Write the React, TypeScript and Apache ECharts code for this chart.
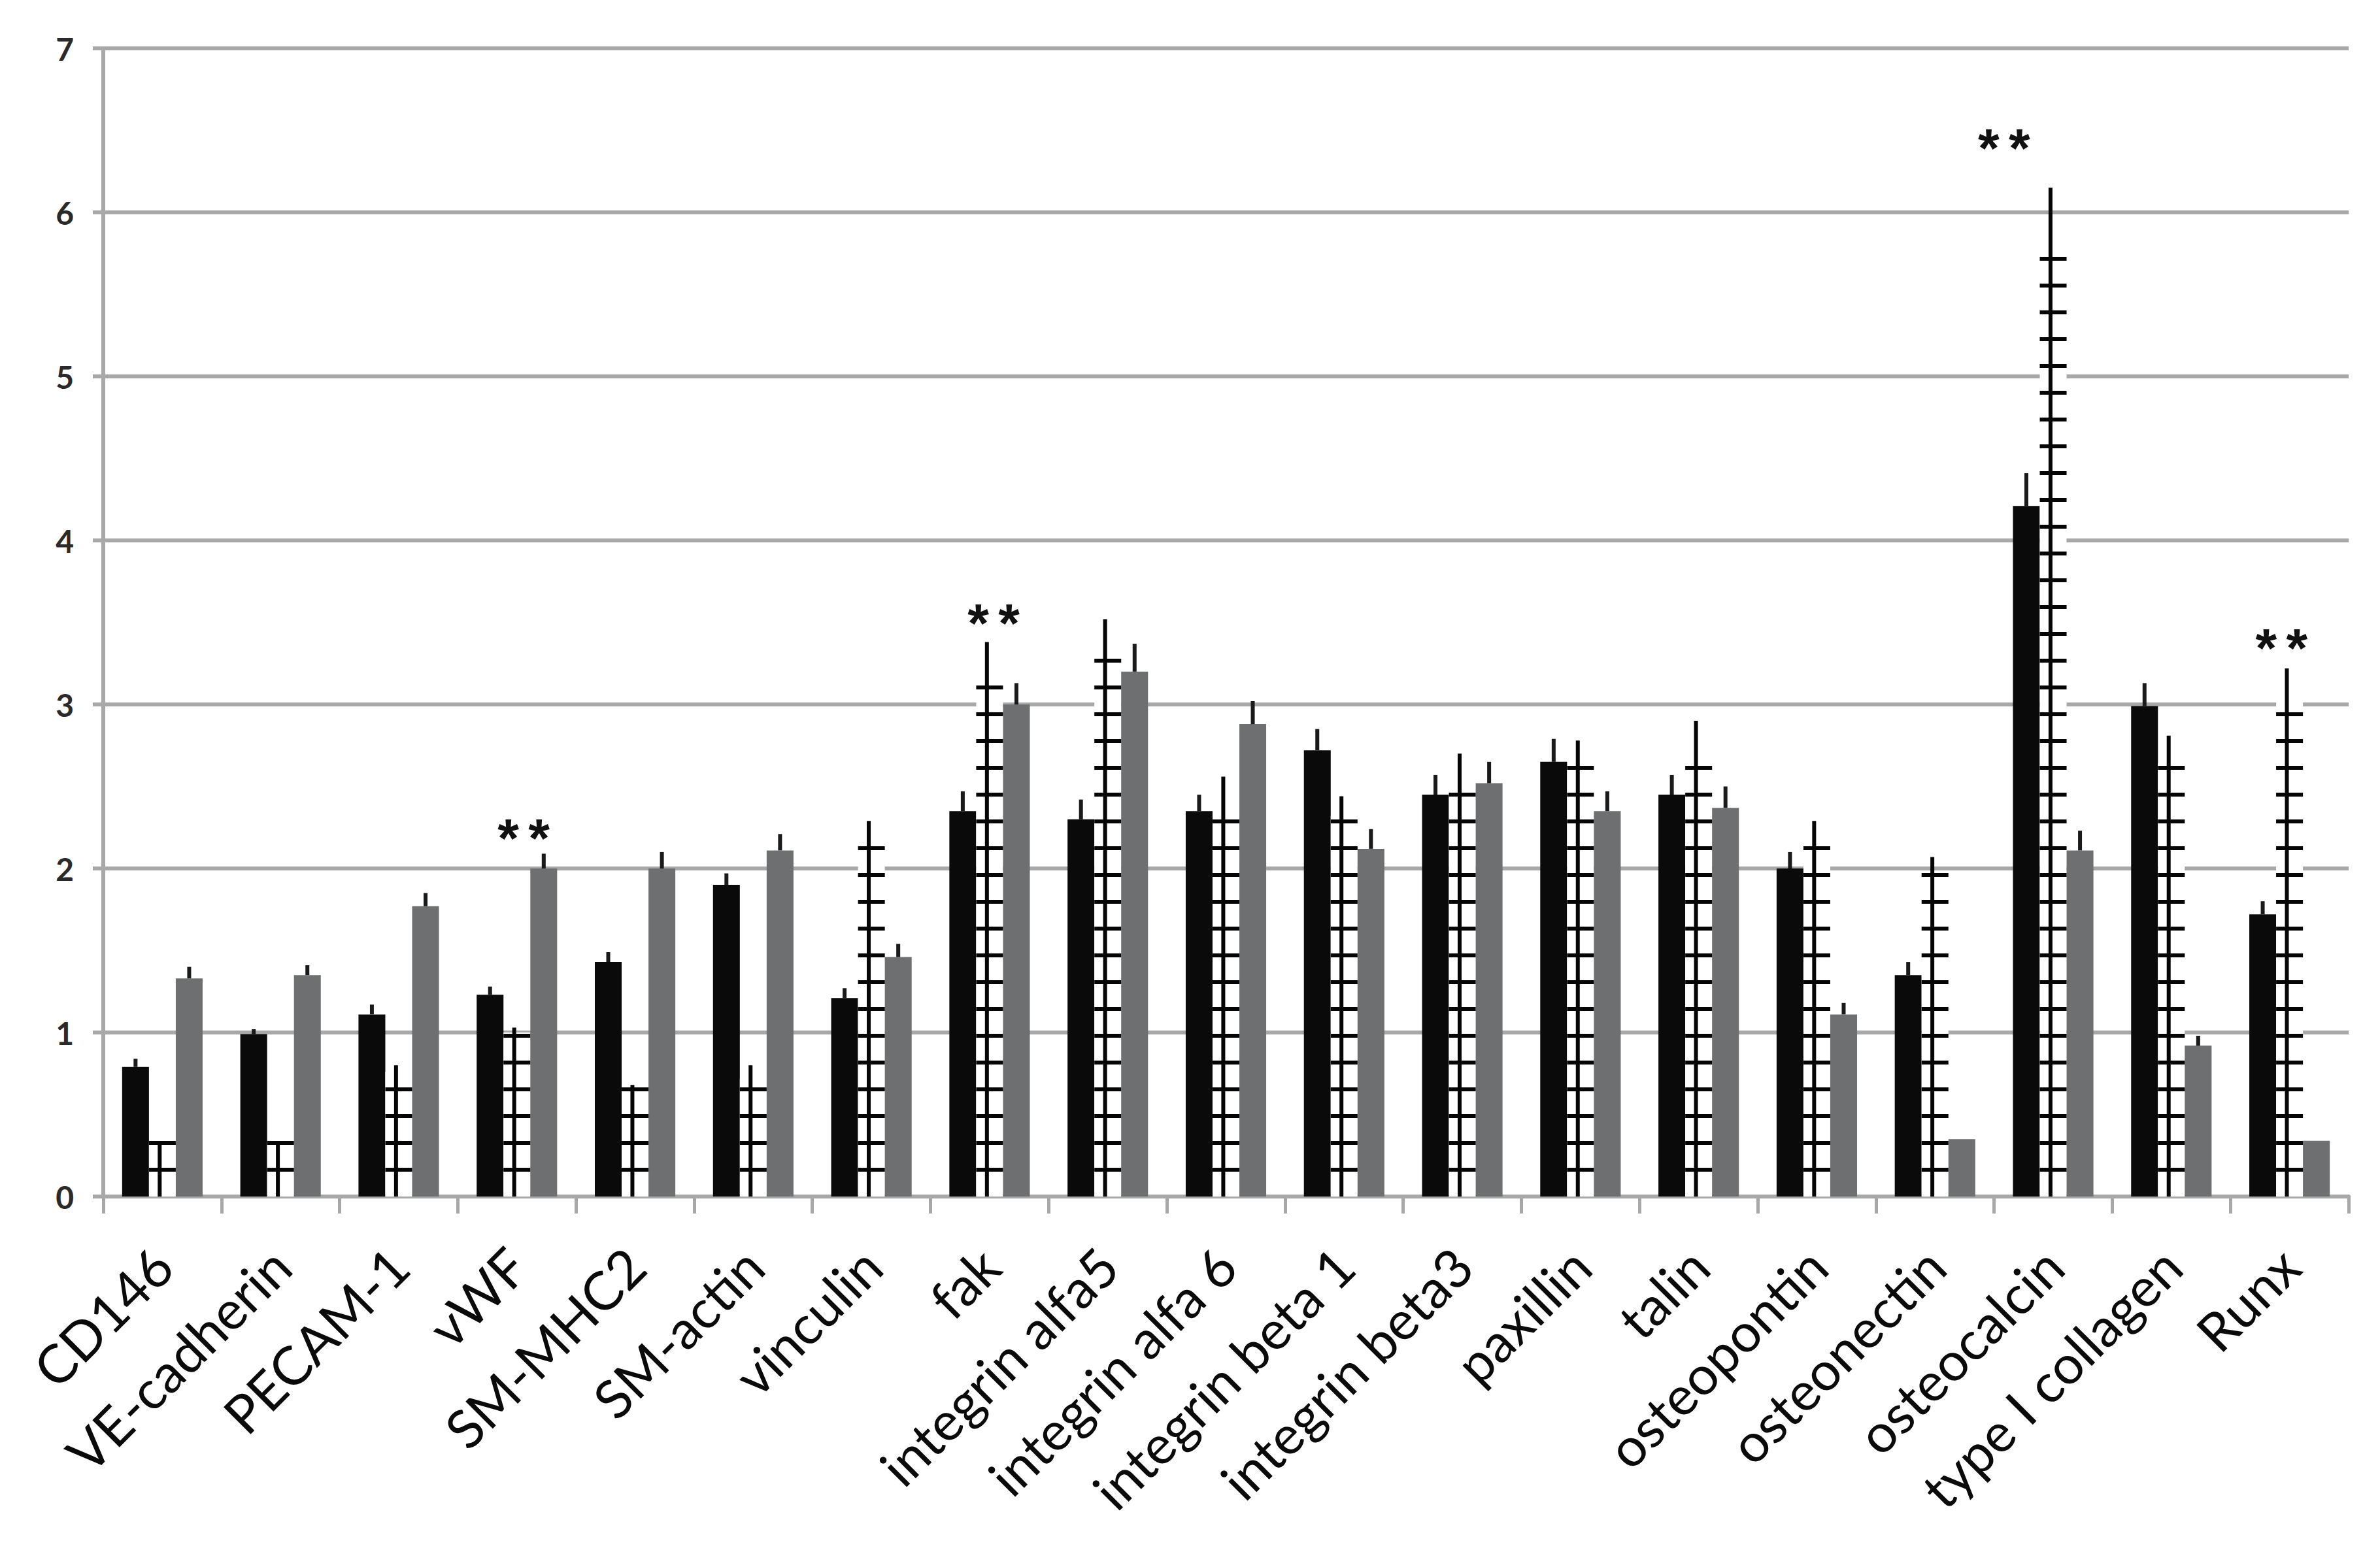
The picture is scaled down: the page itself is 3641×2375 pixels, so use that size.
import React, { useEffect, useRef } from 'react';
import * as echarts from 'echarts';

const categories = [
  'CD146', 'VE-cadherin', 'PECAM-1', 'vWF', 'SM-MHC2', 'SM-actin', 'vinculin', 'fak',
  'integrin alfa5', 'integrin alfa 6', 'integrin beta 1', 'integrin beta3', 'paxillin',
  'talin', 'osteopontin', 'osteonectin', 'osteocalcin', 'type I collagen', 'Runx',
];

const blackVals = [0.79, 0.99, 1.11, 1.23, 1.43, 1.90, 1.21, 2.35, 2.30, 2.35, 2.72, 2.45, 2.65, 2.45, 2.00, 1.35, 4.21, 2.99, 1.72];
const blackErr = [0.05, 0.03, 0.06, 0.05, 0.06, 0.07, 0.06, 0.12, 0.12, 0.10, 0.13, 0.12, 0.14, 0.12, 0.10, 0.08, 0.20, 0.14, 0.08];
const hatchVals = [0.33, 0.33, 0.76, 1.00, 0.68, 0.72, 2.15, 3.19, 3.34, 2.40, 2.32, 2.49, 2.62, 2.76, 2.15, 1.98, 5.84, 2.64, 3.05];
const hatchErr = [0.0, 0.0, 0.04, 0.03, 0.0, 0.08, 0.14, 0.19, 0.18, 0.16, 0.12, 0.21, 0.16, 0.14, 0.14, 0.09, 0.31, 0.17, 0.17];
const grayVals = [1.33, 1.35, 1.77, 2.00, 2.00, 2.11, 1.46, 3.00, 3.20, 2.88, 2.12, 2.52, 2.35, 2.37, 1.11, 0.35, 2.11, 0.92, 0.34];
const grayErr = [0.07, 0.06, 0.08, 0.09, 0.10, 0.10, 0.08, 0.13, 0.17, 0.14, 0.12, 0.13, 0.12, 0.13, 0.07, 0.0, 0.12, 0.06, 0.0];

// significance marks: category index, value at which "**" sits, horizontal shift in bar widths
const sigCategory = [3, 7, 16, 18];
const sigValue = [2.23, 3.54, 6.44, 3.39];
const sigShift = [0.25, 0.15, -1.83, -0.3];

const yMin = 0;
const yMax = 7;
const yInterval = 1;

export default function App() {
  const ref = useRef<HTMLDivElement>(null);

  useEffect(() => {
    if (!ref.current) return;
    const chart = echarts.init(ref.current, null, { renderer: 'svg' });
    const BAR_FRAC = 0.227;
    const HATCH_STEP = 41;
    const gridColor = '#a8a8a8';

    const renderDetails = (params: any, api: any) => {
      const i = api.value(0);
      const base = api.coord([i, 0]);
      const bw = api.size([1, 0])[0];
      const w = bw * BAR_FRAC;
      const cx = base[0];
      const y0 = base[1];
      const children: any[] = [];
      const topY = api.coord([i, hatchVals[i]])[1];
      for (let y = y0 - HATCH_STEP; y > topY - 2; y -= HATCH_STEP) {
        children.push({
          type: 'line',
          shape: { x1: cx - w / 2, y1: y, x2: cx + w / 2, y2: y },
          style: { stroke: '#050505', lineWidth: 6 },
        });
      }
      const vx = cx - w * 0.1;
      const hTop = api.coord([i, hatchVals[i] + hatchErr[i]])[1];
      children.push({
        type: 'line',
        shape: { x1: vx, y1: y0, x2: vx, y2: hTop },
        style: { stroke: '#050505', lineWidth: 6 },
      });
      if (blackErr[i] > 0) {
        const a = api.coord([i, blackVals[i]])[1];
        const b = api.coord([i, blackVals[i] + blackErr[i]])[1];
        children.push({
          type: 'line',
          shape: { x1: cx - w, y1: a, x2: cx - w, y2: b },
          style: { stroke: '#1a1a1a', lineWidth: 6 },
        });
      }
      if (grayErr[i] > 0) {
        const a = api.coord([i, grayVals[i]])[1];
        const b = api.coord([i, grayVals[i] + grayErr[i]])[1];
        children.push({
          type: 'line',
          shape: { x1: cx + w, y1: a, x2: cx + w, y2: b },
          style: { stroke: '#1a1a1a', lineWidth: 6 },
        });
      }
      return { type: 'group', children };
    };

    const renderSig = (params: any, api: any) => {
      const c = api.value(0);
      const v = api.value(1);
      const s = api.value(2);
      const p = api.coord([c, v]);
      const bw = api.size([1, 0])[0];
      const w = bw * BAR_FRAC;
      const x = p[0] + s * w;
      const mk = (dx: number) => ({
        type: 'text',
        x: x + dx,
        y: p[1] + 12,
        style: {
          text: '*',
          fill: '#111',
          font: 'bold 84px "Liberation Sans"',
          align: 'center',
          verticalAlign: 'middle',
        },
      });
      return { type: 'group', children: [mk(-23.5), mk(23.5)] };
    };

    chart.setOption({
      animation: false,
      backgroundColor: '#ffffff',
      grid: { left: 158, right: 48, top: 74, bottom: 544, containLabel: false },
      xAxis: {
        type: 'category',
        data: categories,
        axisLine: { show: true, lineStyle: { color: gridColor, width: 6 } },
        axisTick: { show: true, length: 26, lineStyle: { color: gridColor, width: 5 } },
        axisLabel: {
          rotate: 45,
          interval: 0,
          fontSize: 82,
          fontFamily: 'Lato',
          color: '#0a0a0a',
          margin: 92,
        },
      },
      yAxis: {
        type: 'value',
        min: yMin,
        max: yMax,
        interval: yInterval,
        axisLine: { show: true, lineStyle: { color: gridColor, width: 6 } },
        axisTick: { show: true, length: 16, lineStyle: { color: gridColor, width: 6 } },
        splitLine: { show: true, lineStyle: { color: gridColor, width: 6 } },
        axisLabel: { fontSize: 48, fontFamily: 'Lato', fontWeight: 'bold', color: '#2a2a2a', margin: 45 },
      },
      series: [
        { type: 'bar', name: 'black', data: blackVals, barWidth: '22.7%', barGap: '0%', itemStyle: { color: '#0a0a0a' } },
        { type: 'bar', name: 'hatched', data: hatchVals, barWidth: '22.7%', barGap: '0%', itemStyle: { color: '#ffffff' } },
        { type: 'bar', name: 'gray', data: grayVals, barWidth: '22.7%', barGap: '0%', itemStyle: { color: '#6d6f70' } },
        {
          type: 'custom',
          name: 'details',
          renderItem: renderDetails,
          data: categories.map((_, i) => [i, hatchVals[i] + hatchErr[i]]),
          encode: { x: 0, y: 1 },
          z: 5,
        },
        {
          type: 'custom',
          name: 'significance',
          renderItem: renderSig,
          data: sigCategory.map((c, k) => [c, sigValue[k], sigShift[k]]),
          encode: { x: 0, y: 1 },
          z: 6,
        },
      ],
    });

    return () => chart.dispose();
  }, []);

  return (
    <div
      ref={ref}
      style={{ position: 'fixed', left: 0, top: 0, width: 3641, height: 2375, background: '#fff' }}
    />
  );
}
